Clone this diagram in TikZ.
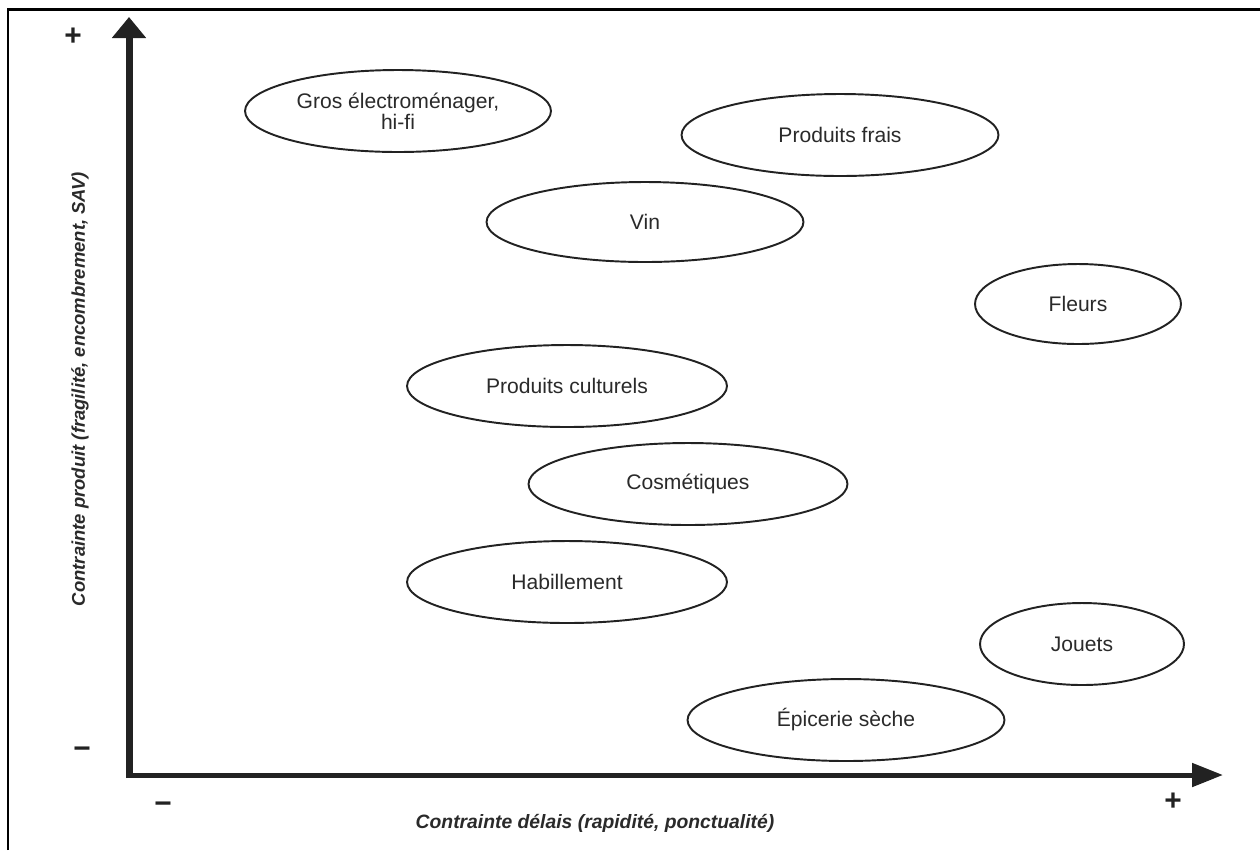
\documentclass[tikz,border=0pt]{standalone}
\usepackage{fontspec}
\setmainfont{Liberation Sans}
\usetikzlibrary{shapes.geometric,arrows.meta}
\definecolor{ink}{HTML}{222222}
\definecolor{txt}{HTML}{2A2A2A}
\tikzset{
  oval/.style={draw=ink, line width=1.1pt, ellipse, inner sep=0pt, align=center,
    text=txt, font=\fontsize{12}{10}\selectfont},
  axislabel/.style={text=txt, font=\fontsize{11}{13}\selectfont\bfseries\itshape},
  signmark/.style={text=ink, font=\fontsize{17}{17}\selectfont\bfseries, inner sep=0pt}
}
\begin{document}
\begin{tikzpicture}[x=0.02cm,y=-0.02cm]
\useasboundingbox (0,0) rectangle (1260,850);
% frame (left and top)
\coordinate (fb) at (8,850);
\coordinate (fc) at (8,9);
\coordinate (fr) at (1260,9);
\draw[line width=0.06cm, line join=miter] (fb) -- (fc) -- (fr);
% axes
\coordinate (O) at (129,775);
\coordinate (Ov) at (129,778);
\coordinate (ytip) at (129,17);
\coordinate (xtip) at (1223,775);
\draw[ink, line width=0.1cm, -{Triangle[length=0.62cm,width=0.46cm]}] (O) -- (xtip);
\draw[ink, line width=0.14cm, -{Triangle[length=0.42cm,width=0.66cm]}] (Ov) -- (ytip);
% signs
\node[signmark] (yplus) at (73,37) {+};
\node[signmark] (yminus) at (82,753) {−};
\node[signmark] (xminus) at (163,808) {−};
\node[signmark] (xplus) at (1173,802) {+};
% axis labels
\node[axislabel] (xlab) at (595,823) {Contrainte délais (rapidité, ponctualité)};
\node[axislabel, font=\fontsize{10.5}{12}\selectfont\bfseries\itshape, rotate=90] (ylab) at (80,389) {Contrainte produit (fragilité, encombrement, SAV)};
% ellipses
\node[oval, minimum width=6.12cm, minimum height=1.64cm] (gros) at (398,111) {Gros électroménager,\\hi-fi};
\node[oval, minimum width=6.34cm, minimum height=1.64cm] (frais) at (840,135) {Produits frais};
\node[oval, minimum width=6.34cm, minimum height=1.6cm] (vin) at (645,222) {Vin};
\node[oval, minimum width=4.12cm, minimum height=1.6cm] (fleurs) at (1078,304) {Fleurs};
\node[oval, minimum width=6.4cm, minimum height=1.64cm] (cult) at (567,386) {Produits culturels};
\node[oval, minimum width=6.38cm, minimum height=1.64cm] (cosm) at (688,484) {Cosmétiques};
\node[oval, minimum width=6.4cm, minimum height=1.64cm] (habi) at (567,582) {Habillement};
\node[oval, minimum width=4.08cm, minimum height=1.64cm] (jouets) at (1082,644) {Jouets};
\node[oval, minimum width=6.34cm, minimum height=1.64cm] (epic) at (846,720) {Épicerie sèche};
\end{tikzpicture}
\end{document}
